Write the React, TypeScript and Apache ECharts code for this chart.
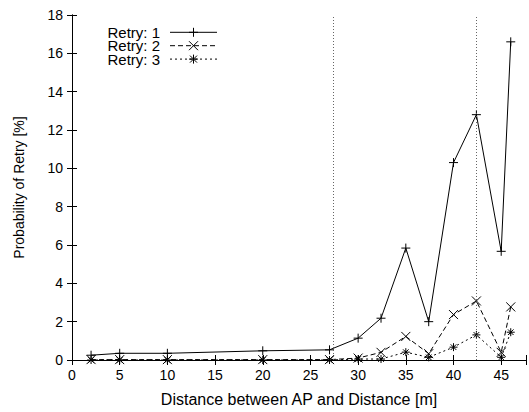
import React, { useEffect, useRef } from 'react';
import * as echarts from 'echarts';

const distances = [2, 5, 10, 20, 27, 30, 32.4, 35, 37.4, 40, 42.4, 45, 46];
const retry1 = [0.25, 0.35, 0.35, 0.48, 0.53, 1.14, 2.18, 5.84, 2.0, 10.3, 12.8, 5.67, 16.6];
const retry2 = [0.02, 0.02, 0.02, 0.02, 0.02, 0.1, 0.4, 1.23, 0.33, 2.37, 3.08, 0.4, 2.77];
const retry3 = [0.0, 0.0, 0.0, 0.0, 0.0, 0.05, 0.05, 0.41, 0.14, 0.67, 1.31, 0.14, 1.45];
const seriesNames = ['Retry: 1', 'Retry: 2', 'Retry: 3'];
const verticalMarks = [27.35, 42.4];
const xTitle = 'Distance between AP and Distance [m]';
const yTitle = 'Probability of Retry [%]';

const FONT = '"Liberation Sans", Arial, Helvetica, sans-serif';

const symbols = [
  'path://M5,0L5,10M0,5L10,5',
  'path://M0,0L10,10M10,0L0,10',
  'path://M5,0L5,10M0,5L10,5M1.5,1.5L8.5,8.5M8.5,1.5L1.5,8.5',
];
const dashes: any[] = ['solid', [5, 3], [2, 3]];

export default function App() {
  const ref = useRef<HTMLDivElement>(null);
  useEffect(() => {
    document.body.style.margin = '0';
    const chart = echarts.init(ref.current!, null, { renderer: 'svg' });
    const datasets = [retry1, retry2, retry3];

    const rowGap = 13.4;
    const y0 = 32.3;
    const legendEls: any[] = [
      {
        type: 'text',
        x: 160,
        y: y0 + rowGap,
        style: {
          text: seriesNames.join('\n'),
          fill: '#000',
          font: `15px ${FONT}`,
          lineHeight: rowGap,
          textAlign: 'right',
          textVerticalAlign: 'middle',
        },
      },
    ];
    seriesNames.forEach((name, i) => {
      const y = y0 + rowGap * i;
      legendEls.push({
        type: 'line',
        shape: { x1: 170, y1: y, x2: 217, y2: y },
        style: { stroke: '#000', lineWidth: 1, lineDash: i === 0 ? null : dashes[i] },
      });
      const cx = 193.5;
      const r = 4.5;
      const segs: number[][] = [];
      if (i === 0 || i === 2) {
        segs.push([cx, y - r, cx, y + r], [cx - r, y, cx + r, y]);
      }
      if (i === 1 || i === 2) {
        const d = i === 2 ? 3.5 : r;
        segs.push([cx - d, y - d, cx + d, y + d], [cx + d, y - d, cx - d, y + d]);
      }
      segs.forEach((s) => {
        legendEls.push({
          type: 'line',
          shape: { x1: s[0], y1: s[1], x2: s[2], y2: s[3] },
          style: { stroke: '#000', lineWidth: 1 },
        });
      });
    });

    const axisCommon = {
      axisLine: { show: true, lineStyle: { color: '#000', width: 1 } },
      axisTick: { show: true, inside: true, length: 5, lineStyle: { color: '#000', width: 1 } },
      splitLine: { show: false },
    };

    chart.setOption({
      animation: false,
      backgroundColor: '#fff',
      grid: { left: 72, right: 1, top: 15, bottom: 50, containLabel: false },
      xAxis: [
        {
          type: 'value',
          min: 0,
          max: 47.6,
          interval: 5,
          position: 'bottom',
          ...axisCommon,
          axisLabel: {
            color: '#000',
            fontSize: 14,
            fontFamily: FONT,
            margin: 8,
            formatter: (v: number) => (v % 5 === 0 ? String(v) : ''),
          },
          name: xTitle,
          nameLocation: 'middle',
          nameGap: 31,
          nameTextStyle: { color: '#000', fontSize: 16, fontFamily: FONT },
        },
        {
          type: 'value',
          min: 0,
          max: 47.6,
          interval: 5,
          position: 'top',
          ...axisCommon,
          axisLabel: { show: false },
        },
      ],
      yAxis: [
        {
          type: 'value',
          min: 0,
          max: 18,
          interval: 2,
          position: 'left',
          ...axisCommon,
          axisLabel: { color: '#000', fontSize: 14, fontFamily: FONT, margin: 9 },
          name: yTitle,
          nameLocation: 'middle',
          nameGap: 46,
          nameTextStyle: { color: '#000', fontSize: 14, fontFamily: FONT },
        },
        {
          type: 'value',
          min: 0,
          max: 18,
          interval: 2,
          position: 'right',
          ...axisCommon,
          axisLabel: { show: false },
        },
      ],
      series: datasets.map((d, i) => ({
        name: seriesNames[i],
        type: 'line',
        xAxisIndex: 0,
        yAxisIndex: 0,
        data: distances.map((x, j) => [x, d[j]]),
        symbol: symbols[i],
        symbolSize: i === 2 ? 8 : 9,
        showSymbol: true,
        lineStyle: { color: '#000', width: 1, type: dashes[i] },
        itemStyle: { color: 'rgba(0,0,0,0)', borderColor: '#000', borderWidth: 1 },
        z: 3 - i,
        markLine:
          i === 0
            ? {
                silent: true,
                symbol: 'none',
                label: { show: false },
                lineStyle: { color: '#666', width: 1, type: [1, 2] },
                data: verticalMarks.map((x) => ({ xAxis: x })),
              }
            : undefined,
      })),
      graphic: legendEls,
    });
    return () => chart.dispose();
  }, []);
  return <div ref={ref} style={{ width: 529, height: 412 }} />;
}
